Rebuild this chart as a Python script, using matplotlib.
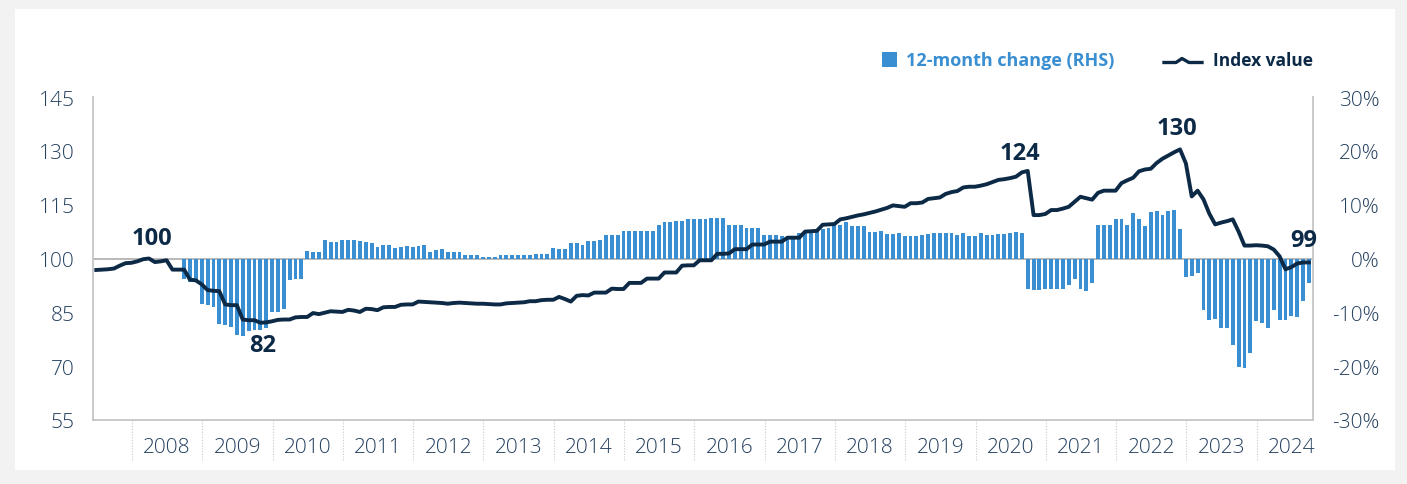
import numpy as np
import matplotlib
matplotlib.use("Agg")
import matplotlib.pyplot as plt
from matplotlib.transforms import blended_transform_factory
from matplotlib.lines import Line2D
from matplotlib.patches import Rectangle

plt.rcParams['font.family'] = ['Open Sans', 'DejaVu Sans']

NAVY = '#0c2946'
BLUE = '#3a8fd2'
TXT = '#25405f'
GREY = '#c6c6c6'

# index value, monthly, Jun 2007 .. Aug 2024
index_value = [
    96.8, 96.9, 97.0, 97.2, 98.0, 98.7, 98.8, 99.2, 99.8, 100.0,
    99.0, 99.2, 99.5, 96.9, 96.9, 96.9, 94.1, 93.9, 92.8, 91.2,
    91.0, 90.9, 87.2, 87.0, 87.0, 83.0, 82.8, 82.8, 82.1, 82.2,
    82.5, 82.9, 83.0, 83.0, 83.6, 83.7, 83.7, 84.8, 84.5, 84.9,
    85.3, 85.2, 85.1, 85.7, 85.5, 85.1, 86.0, 85.9, 85.6, 86.4,
    86.5, 86.5, 87.1, 87.2, 87.2, 88.0, 87.9, 87.8, 87.7, 87.6,
    87.4, 87.6, 87.7, 87.6, 87.5, 87.4, 87.4, 87.3, 87.2, 87.2,
    87.5, 87.6, 87.7, 87.8, 88.1, 88.1, 88.4, 88.5, 88.5, 89.3,
    88.7, 88.0, 89.6, 89.8, 89.7, 90.5, 90.5, 90.5, 91.6, 91.5,
    91.5, 93.2, 93.2, 93.2, 94.4, 94.4, 94.4, 96.1, 96.1, 96.1,
    98.0, 98.1, 98.1, 99.5, 99.5, 99.5, 101.3, 101.3, 101.4, 102.6,
    102.6, 102.6, 103.9, 103.9, 103.9, 104.7, 104.7, 104.7, 105.8, 105.8,
    105.8, 107.5, 107.6, 107.7, 109.4, 109.5, 109.6, 110.9, 111.2, 111.6,
    112.0, 112.3, 112.7, 113.1, 113.6, 114.1, 114.8, 114.6, 114.4, 115.4,
    115.4, 115.6, 116.6, 116.8, 117.0, 118.0, 118.5, 118.8, 119.8, 120.0,
    120.0, 120.3, 120.7, 121.3, 121.9, 122.1, 122.4, 122.8, 124.0, 124.4,
    112.1, 112.1, 112.4, 113.5, 113.5, 113.9, 114.4, 115.8, 117.2, 116.8,
    116.4, 118.3, 118.9, 118.9, 118.9, 121.0, 121.8, 122.5, 124.3, 124.8,
    125.0, 126.6, 127.8, 128.7, 129.6, 130.4, 126.5, 117.3, 118.9, 116.5,
    112.5, 109.5, 110.0, 110.4, 110.9, 107.5, 103.6, 103.6, 103.7, 103.6,
    103.4, 102.5, 100.6, 97.0, 97.6, 98.6, 98.9, 98.9,
]

# 12-month change (%), monthly, Oct 2008 .. Sep 2024
change_pct = [
    -3.9, -4.3, -4.3, -8.4, -8.6, -9.1, -12.2, -12.4, -12.8, -14.3,
    -14.4, -13.4, -13.3, -13.2, -13.0, -9.9, -9.9, -9.3, -4.0, -3.9, -3.9,
    1.4, 1.2, 1.2, 3.5, 3.1, 3.1, 3.5, 3.5, 3.4, 3.2,
    3.0, 2.8, 2.2, 2.6, 2.6, 2.0, 2.2, 2.4, 2.2, 2.4,
    2.6, 1.3, 1.5, 1.7, 1.3, 1.3, 1.3, 0.6, 0.6, 0.6,
    0.2, 0.2, 0.2, 0.6, 0.6, 0.6, 0.6, 0.6, 0.6, 0.9,
    0.9, 0.9, 1.9, 1.7, 1.7, 2.8, 2.8, 2.6, 3.2, 3.2,
    3.4, 4.3, 4.3, 4.3, 5.2, 5.2, 5.2, 5.2, 5.2, 5.2,
    6.3, 6.7, 6.7, 6.9, 6.9, 7.3, 7.3, 7.3, 7.3, 7.45,
    7.45, 7.45, 6.3, 6.3, 6.3, 5.6, 5.6, 5.6, 4.3, 4.3,
    4.3, 4.1, 4.1, 4.1, 4.7, 4.8, 4.8, 5.3, 5.5, 5.6,
    6.3, 6.3, 6.7, 6.1, 6.0, 6.1, 5.0, 5.0, 5.2, 4.5,
    4.5, 4.8, 4.1, 4.1, 4.1, 4.3, 4.5, 4.7, 4.7, 4.7,
    4.7, 4.3, 4.8, 4.1, 4.1, 4.7, 4.3, 4.3, 4.5, 4.5,
    4.8, 5.0, 4.8, -5.6, -5.9, -5.9, -5.6, -5.7, -5.6, -5.6,
    -5.0, -3.9, -5.7, -6.1, -4.5, 6.3, 6.3, 6.3, 7.3, 7.3,
    6.3, 8.4, 7.3, 6.0, 8.6, 8.9, 8.0, 8.8, 9.1, 5.4,
    -3.5, -3.2, -2.7, -9.6, -11.5, -11.3, -12.9, -13.0, -16.1, -20.1,
    -20.3, -17.5, -11.6, -12.0, -13.0, -9.6, -11.5, -11.5, -10.7, -10.9,
    -7.95, -4.6,
]

years = list(range(2008, 2025))
left_ticks = [55, 70, 85, 100, 115, 130, 145]
right_ticks = [-30, -20, -10, 0, 10, 20, 30]

# which points get a value label, and where the label sits (px offset)
labelled = [(9, 3, 20), (28, 2, -22), (159, -8, 18), (185, -3, 21), (207, -5, 22)]

# x axis in months from Jan 2008; values plotted near month end
MONTH_END = 0.9
line_x = np.arange(len(index_value)) - 7 + MONTH_END
bar_x = np.arange(len(change_pct)) + 9 - 1 + MONTH_END

W, H = 1407, 485
fig = plt.figure(figsize=(W / 100, H / 100), dpi=100, facecolor='#f2f2f2')
fig.patches.append(Rectangle((15 / W, (H - 471) / H), (1395 - 15) / W, (471 - 10) / H,
                             transform=fig.transFigure, facecolor='white',
                             edgecolor='none', zorder=-10))

ax = fig.add_axes([93 / W, (H - 421) / H, (1313 - 93) / W, (421 - 98) / H])
ax2 = ax.twinx()
ax.set_zorder(ax2.get_zorder() + 1)
ax.patch.set_visible(False)
ax2.patch.set_visible(False)

# bars (RHS)
ax2.axhline(0, color='#b3b3b3', lw=1.3, zorder=1)
ax2.bar(bar_x, change_pct, width=0.66, color=BLUE, zorder=2)
ax2.set_ylim(-30, 30)
ax2.set_yticks(right_ticks)
ax2.set_yticklabels([f"{t}%" for t in right_ticks])
ax2.tick_params(axis='y', length=0, pad=48, labelsize=15, labelcolor=TXT)
for lab in ax2.get_yticklabels():
    lab.set_ha('right')
for s in ax2.spines.values():
    s.set_visible(False)

# index line (LHS)
ax.plot(line_x, index_value, color=NAVY, lw=2.8, zorder=3)
ax.set_ylim(55, 145)
ax.set_yticks(left_ticks)
ax.tick_params(axis='y', length=0, pad=13, labelsize=15, labelcolor=TXT)
ax.set_xlim(-6.66, 201.6)
ax.set_xticks([])
ax.spines['top'].set_visible(False)
for side in ['left', 'right', 'bottom']:
    ax.spines[side].set_color(GREY)
    ax.spines[side].set_linewidth(1.3)

for i, dx, dy in labelled:
    ax.annotate(f"{round(index_value[i])}", (line_x[i], index_value[i]),
                xytext=(dx * 0.72, dy * 0.72), textcoords='offset points',
                ha='center', va='center', fontsize=17, fontweight='bold',
                color=NAVY)

# year bands under the axis
trans = blended_transform_factory(ax.transData, ax.transAxes)
for y in years:
    x0 = (y - 2008) * 12
    ax.plot([x0, x0], [0, -41 / 323], transform=trans, clip_on=False,
            color='#c8c8c8', lw=0.8, ls=(0, (1, 1.5)))
    ax.text(x0 + 6, -27 / 323, str(y), transform=trans, ha='center', va='center',
            fontsize=15, color=TXT, fontweight='light')

for lab in ax.get_yticklabels() + ax2.get_yticklabels():
    lab.set_fontweight('light')

# legend
fig.patches.append(Rectangle((882 / W, (H - 68) / H), 15 / W, 15 / H,
                             transform=fig.transFigure, facecolor=BLUE,
                             edgecolor='none'))
fig.text(906 / W, (H - 61) / H, "12-month change (RHS)", ha='left', va='center',
         fontsize=13, fontweight='bold', color=BLUE)
gx = np.array([1164, 1176, 1182, 1189, 1202]) / W
gy = (H - np.array([63.5, 63.5, 59.5, 63.5, 63.5])) / H
fig.add_artist(Line2D(gx, gy, transform=fig.transFigure, color=NAVY, lw=2.4))
fig.text(1213 / W, (H - 61) / H, "Index value", ha='left', va='center',
         fontsize=12.5, fontweight='bold', color=NAVY)

fig.savefig('out.png', dpi=100, facecolor=fig.get_facecolor())
